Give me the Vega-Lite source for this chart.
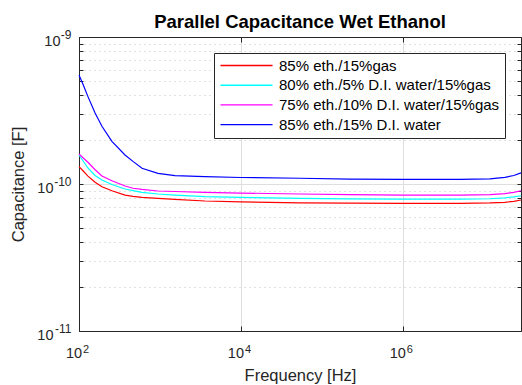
{
  "$schema": "https://vega.github.io/schema/vega-lite/v6.json",
  "width": 442,
  "height": 294,
  "autosize": {"type": "none"},
  "padding": {"left": 79, "top": 37, "right": 1, "bottom": 54},
  "background": "white",
  "config": {"font": "Liberation Sans", "view": {"stroke": null}},
  "title": {"text": "Parallel Capacitance Wet Ethanol", "fontSize": 18.5, "fontWeight": "bold", "color": "black", "anchor": "middle", "frame": "group", "offset": -3},
  "data": {"values": [
    {"f": 100, "c": 1.312e-10, "s": "85% eth./15%gas"},
    {"f": 112, "c": 1.23e-10, "s": "85% eth./15%gas"},
    {"f": 129, "c": 1.132e-10, "s": "85% eth./15%gas"},
    {"f": 158, "c": 1.028e-10, "s": "85% eth./15%gas"},
    {"f": 192, "c": 9.57e-11, "s": "85% eth./15%gas"},
    {"f": 255, "c": 8.99e-11, "s": "85% eth./15%gas"},
    {"f": 370, "c": 8.41e-11, "s": "85% eth./15%gas"},
    {"f": 464, "c": 8.24e-11, "s": "85% eth./15%gas"},
    {"f": 600, "c": 8.1e-11, "s": "85% eth./15%gas"},
    {"f": 944, "c": 7.99e-11, "s": "85% eth./15%gas"},
    {"f": 1530, "c": 7.87e-11, "s": "85% eth./15%gas"},
    {"f": 3600, "c": 7.66e-11, "s": "85% eth./15%gas"},
    {"f": 10000, "c": 7.55e-11, "s": "85% eth./15%gas"},
    {"f": 53500, "c": 7.45e-11, "s": "85% eth./15%gas"},
    {"f": 222000, "c": 7.4e-11, "s": "85% eth./15%gas"},
    {"f": 1000000, "c": 7.39e-11, "s": "85% eth./15%gas"},
    {"f": 5060000, "c": 7.39e-11, "s": "85% eth./15%gas"},
    {"f": 11900000, "c": 7.43e-11, "s": "85% eth./15%gas"},
    {"f": 18200000, "c": 7.51e-11, "s": "85% eth./15%gas"},
    {"f": 23500000, "c": 7.62e-11, "s": "85% eth./15%gas"},
    {"f": 28800000, "c": 7.78e-11, "s": "85% eth./15%gas"},

    {"f": 100, "c": 1.575e-10, "s": "80% eth./5% D.I. water/15%gas"},
    {"f": 112, "c": 1.44e-10, "s": "80% eth./5% D.I. water/15%gas"},
    {"f": 129, "c": 1.285e-10, "s": "80% eth./5% D.I. water/15%gas"},
    {"f": 158, "c": 1.142e-10, "s": "80% eth./5% D.I. water/15%gas"},
    {"f": 192, "c": 1.064e-10, "s": "80% eth./5% D.I. water/15%gas"},
    {"f": 255, "c": 9.93e-11, "s": "80% eth./5% D.I. water/15%gas"},
    {"f": 370, "c": 9.25e-11, "s": "80% eth./5% D.I. water/15%gas"},
    {"f": 464, "c": 9.02e-11, "s": "80% eth./5% D.I. water/15%gas"},
    {"f": 600, "c": 8.78e-11, "s": "80% eth./5% D.I. water/15%gas"},
    {"f": 944, "c": 8.55e-11, "s": "80% eth./5% D.I. water/15%gas"},
    {"f": 1530, "c": 8.41e-11, "s": "80% eth./5% D.I. water/15%gas"},
    {"f": 3600, "c": 8.2e-11, "s": "80% eth./5% D.I. water/15%gas"},
    {"f": 10000, "c": 8.1e-11, "s": "80% eth./5% D.I. water/15%gas"},
    {"f": 53500, "c": 7.99e-11, "s": "80% eth./5% D.I. water/15%gas"},
    {"f": 222000, "c": 7.93e-11, "s": "80% eth./5% D.I. water/15%gas"},
    {"f": 1000000, "c": 7.9e-11, "s": "80% eth./5% D.I. water/15%gas"},
    {"f": 5060000, "c": 7.9e-11, "s": "80% eth./5% D.I. water/15%gas"},
    {"f": 11900000, "c": 7.94e-11, "s": "80% eth./5% D.I. water/15%gas"},
    {"f": 18200000, "c": 8.05e-11, "s": "80% eth./5% D.I. water/15%gas"},
    {"f": 23500000, "c": 8.18e-11, "s": "80% eth./5% D.I. water/15%gas"},
    {"f": 28800000, "c": 8.32e-11, "s": "80% eth./5% D.I. water/15%gas"},

    {"f": 100, "c": 1.6e-10, "s": "75% eth./10% D.I. water/15%gas"},
    {"f": 112, "c": 1.51e-10, "s": "75% eth./10% D.I. water/15%gas"},
    {"f": 129, "c": 1.406e-10, "s": "75% eth./10% D.I. water/15%gas"},
    {"f": 158, "c": 1.25e-10, "s": "75% eth./10% D.I. water/15%gas"},
    {"f": 192, "c": 1.135e-10, "s": "75% eth./10% D.I. water/15%gas"},
    {"f": 255, "c": 1.051e-10, "s": "75% eth./10% D.I. water/15%gas"},
    {"f": 370, "c": 9.69e-11, "s": "75% eth./10% D.I. water/15%gas"},
    {"f": 464, "c": 9.36e-11, "s": "75% eth./10% D.I. water/15%gas"},
    {"f": 600, "c": 9.18e-11, "s": "75% eth./10% D.I. water/15%gas"},
    {"f": 944, "c": 8.96e-11, "s": "75% eth./10% D.I. water/15%gas"},
    {"f": 1530, "c": 8.89e-11, "s": "75% eth./10% D.I. water/15%gas"},
    {"f": 3600, "c": 8.78e-11, "s": "75% eth./10% D.I. water/15%gas"},
    {"f": 10000, "c": 8.68e-11, "s": "75% eth./10% D.I. water/15%gas"},
    {"f": 53500, "c": 8.55e-11, "s": "75% eth./10% D.I. water/15%gas"},
    {"f": 222000, "c": 8.46e-11, "s": "75% eth./10% D.I. water/15%gas"},
    {"f": 1000000, "c": 8.41e-11, "s": "75% eth./10% D.I. water/15%gas"},
    {"f": 5060000, "c": 8.41e-11, "s": "75% eth./10% D.I. water/15%gas"},
    {"f": 11900000, "c": 8.48e-11, "s": "75% eth./10% D.I. water/15%gas"},
    {"f": 18200000, "c": 8.61e-11, "s": "75% eth./10% D.I. water/15%gas"},
    {"f": 23500000, "c": 8.78e-11, "s": "75% eth./10% D.I. water/15%gas"},
    {"f": 28800000, "c": 9.0e-11, "s": "75% eth./10% D.I. water/15%gas"},

    {"f": 100, "c": 5.51e-10, "s": "85% eth./15% D.I. water"},
    {"f": 112, "c": 4.77e-10, "s": "85% eth./15% D.I. water"},
    {"f": 129, "c": 3.93e-10, "s": "85% eth./15% D.I. water"},
    {"f": 158, "c": 3.04e-10, "s": "85% eth./15% D.I. water"},
    {"f": 192, "c": 2.47e-10, "s": "85% eth./15% D.I. water"},
    {"f": 255, "c": 1.95e-10, "s": "85% eth./15% D.I. water"},
    {"f": 370, "c": 1.575e-10, "s": "85% eth./15% D.I. water"},
    {"f": 464, "c": 1.425e-10, "s": "85% eth./15% D.I. water"},
    {"f": 600, "c": 1.28e-10, "s": "85% eth./15% D.I. water"},
    {"f": 944, "c": 1.18e-10, "s": "85% eth./15% D.I. water"},
    {"f": 1530, "c": 1.139e-10, "s": "85% eth./15% D.I. water"},
    {"f": 3600, "c": 1.122e-10, "s": "85% eth./15% D.I. water"},
    {"f": 10000, "c": 1.107e-10, "s": "85% eth./15% D.I. water"},
    {"f": 53500, "c": 1.094e-10, "s": "85% eth./15% D.I. water"},
    {"f": 222000, "c": 1.081e-10, "s": "85% eth./15% D.I. water"},
    {"f": 1000000, "c": 1.076e-10, "s": "85% eth./15% D.I. water"},
    {"f": 5060000, "c": 1.076e-10, "s": "85% eth./15% D.I. water"},
    {"f": 11900000, "c": 1.085e-10, "s": "85% eth./15% D.I. water"},
    {"f": 18200000, "c": 1.11e-10, "s": "85% eth./15% D.I. water"},
    {"f": 23500000, "c": 1.142e-10, "s": "85% eth./15% D.I. water"},
    {"f": 28800000, "c": 1.19e-10, "s": "85% eth./15% D.I. water"}
  ]},
  "layer": [
    {
      "mark": {"type": "line", "strokeWidth": 1.2},
      "encoding": {
        "x": {
          "field": "f", "type": "quantitative",
          "scale": {"type": "log", "domain": [100, 28800000], "nice": false},
          "axis": {
            "values": [100, 10000, 1000000],
            "labelExpr": "'10'",
            "labelFlush": false, "labelOverlap": false,
            "labelFontSize": 14.5, "labelColor": "#262626", "labelPadding": 20.5, "labelOffset": -5.5, "labelBaseline": "top",
            "tickSize": -5, "tickColor": "#262626", "domainColor": "#262626",
            "grid": true, "gridColor": "#dedede", "gridWidth": 1,
            "title": "Frequency [Hz]", "titleFontSize": 16.5, "titleFontWeight": "normal", "titleColor": "#262626",
            "titleX": 221, "titleY": 49, "titleBaseline": "alphabetic", "titleAlign": "center"
          }
        },
        "y": {
          "field": "c", "type": "quantitative",
          "scale": {"type": "log", "domain": [1e-11, 1e-9], "nice": false},
          "axis": {
            "values": [1e-11, 2e-11, 3e-11, 4e-11, 5e-11, 6e-11, 7e-11, 8e-11, 9e-11, 1e-10, 2e-10, 3e-10, 4e-10, 5e-10, 6e-10, 7e-10, 8e-10, 9e-10, 1e-9],
            "labelExpr": "abs(log(datum.value)/LN10 - round(log(datum.value)/LN10)) < 0.001 ? '10' : ''",
            "labelOverlap": false, "labelFlush": false,
            "labelFontSize": 14.5, "labelColor": "#262626",
            "labelPadding": {"condition": {"test": "datum.value > 5e-10", "value": 23}, "value": 30},
            "labelOffset": 4, "labelBaseline": "middle", "labelAlign": "right",
            "tickSize": -4, "tickColor": "#262626", "domainColor": "#262626",
            "grid": true,
            "gridColor": {"condition": {"test": "abs(log(datum.value)/LN10 - round(log(datum.value)/LN10)) < 0.001", "value": "#dedede"}, "value": "#c4c4c4"},
            "gridDash": {"condition": {"test": "abs(log(datum.value)/LN10 - round(log(datum.value)/LN10)) < 0.001", "value": []}, "value": [1, 4]},
            "title": "Capacitance [F]", "titleFontSize": 16.5, "titleFontWeight": "normal", "titleColor": "#262626",
            "titleX": -53, "titleY": 147, "titleAngle": -90, "titleBaseline": "bottom", "titleAlign": "center"
          }
        },
        "color": {
          "field": "s", "type": "nominal",
          "scale": {
            "domain": ["85% eth./15%gas", "80% eth./5% D.I. water/15%gas", "75% eth./10% D.I. water/15%gas", "85% eth./15% D.I. water"],
            "range": ["#ff0000", "#00ffff", "#ff00ff", "#0000ff"]
          },
          "legend": {
            "title": null, "orient": "none", "legendX": 135, "legendY": 16, "direction": "vertical",
            "fillColor": "white", "strokeColor": "#262626", "padding": 5,
            "labelFontSize": 15, "labelColor": "black", "labelLimit": 400,
            "symbolType": "M-6,0H46", "symbolSize": 4, "symbolStrokeWidth": 1.4,
            "labelOffset": 45, "rowPadding": 3.7
          }
        }
      }
    },
    {
      "mark": {"type": "point", "opacity": 0},
      "encoding": {
        "x": {
          "field": "f", "type": "quantitative",
          "scale": {"type": "log", "domain": [100, 28800000], "nice": false},
          "axis": {"orient": "bottom", "values": [100, 10000, 1000000],
            "labelExpr": "datum.value < 1000 ? '2' : datum.value < 100000 ? '4' : '6'",
            "labelAlign": "left", "labelBaseline": "top", "labelOffset": 3.5, "labelPadding": 12, "labelFontSize": 11, "labelColor": "#262626",
            "labelFlush": false, "labelOverlap": false,
            "ticks": false, "tickSize": 0, "domain": false, "grid": false, "title": null}
        },
        "y": {
          "field": "c", "type": "quantitative",
          "scale": {"type": "log", "domain": [1e-11, 1e-9], "nice": false},
          "axis": {"orient": "left", "values": [1e-11, 1e-10, 1e-9],
            "labelExpr": "datum.value > 5e-10 ? '-9' : datum.value > 5e-11 ? '-10' : '-11'",
            "labelAlign": "right", "labelBaseline": "middle", "labelOffset": -3, "labelPadding": 8, "labelFontSize": 12, "labelColor": "#262626",
            "labelFlush": false, "labelOverlap": false,
            "ticks": false, "tickSize": 0, "domain": false, "grid": false, "title": null}
        }
      }
    },
    {
      "mark": {"type": "point", "opacity": 0},
      "encoding": {
        "x": {
          "field": "f", "type": "quantitative",
          "scale": {"type": "log", "domain": [100, 28800000], "nice": false},
          "axis": {"orient": "top", "values": [100, 10000, 1000000], "labels": false, "title": null, "grid": false, "tickSize": -5, "tickColor": "#262626", "domainColor": "#262626"}
        },
        "y": {
          "field": "c", "type": "quantitative",
          "scale": {"type": "log", "domain": [1e-11, 1e-9], "nice": false},
          "axis": {"orient": "right", "values": [1e-11, 2e-11, 3e-11, 4e-11, 5e-11, 6e-11, 7e-11, 8e-11, 9e-11, 1e-10, 2e-10, 3e-10, 4e-10, 5e-10, 6e-10, 7e-10, 8e-10, 9e-10, 1e-9], "labels": false, "title": null, "grid": false, "tickSize": -4, "tickColor": "#262626", "domainColor": "#262626"}
        }
      }
    }
  ],
  "resolve": {"axis": {"x": "independent", "y": "independent"}}
}
